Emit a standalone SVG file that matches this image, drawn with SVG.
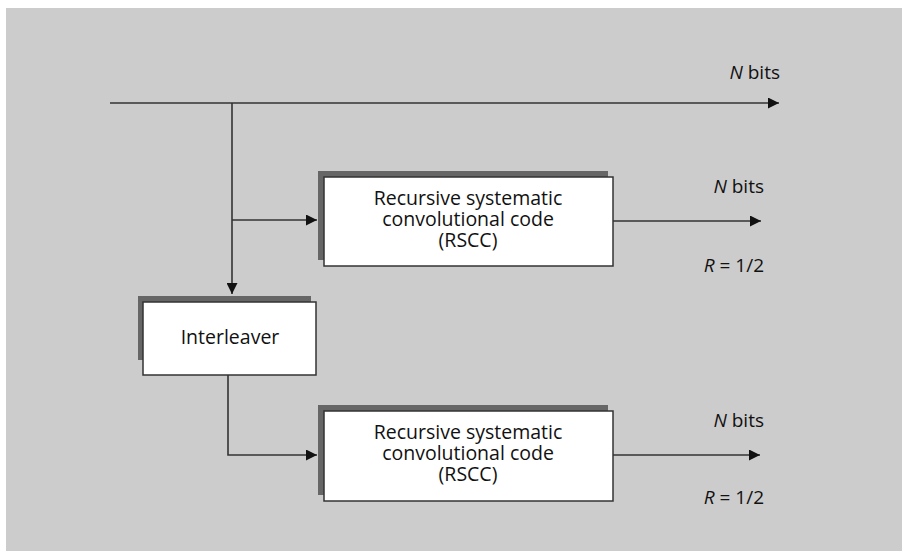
<svg xmlns="http://www.w3.org/2000/svg" width="902" height="551" viewBox="0 0 902 551">
  <style>
    .bg { fill: #cccccc; }
    .shadow { fill: #666666; }
    .box { fill: #ffffff; stroke: #333333; stroke-width: 1.5; }
    .wire { fill: none; stroke: #333333; stroke-width: 1.6; }
    .lbl { font-family: "Open Sans", "Noto Sans", "Liberation Sans", sans-serif; font-size: 19px; fill: #111111; }
    .blk { font-size: 19.5px; }
    .mid { text-anchor: middle; }
    .end { text-anchor: end; }
    .it { font-style: italic; }
  </style>
  <defs>
    <marker id="arrow" viewBox="0 0 10 10" refX="10" refY="5" markerWidth="11" markerHeight="11" markerUnits="userSpaceOnUse" orient="auto">
      <path d="M0,0 L10,5 L0,10 Z" fill="#111111"/>
    </marker>
  </defs>

  <rect class="bg" x="6" y="8" width="896" height="543"/>

  <g id="connectors">
    <!-- systematic bits straight through -->
    <line class="wire" x1="110" y1="103" x2="779" y2="103" marker-end="url(#arrow)"/>
    <!-- tap down to the interleaver -->
    <line class="wire" x1="232" y1="103" x2="232" y2="294" marker-end="url(#arrow)"/>
    <!-- tap into the first encoder -->
    <line class="wire" x1="232" y1="220" x2="317" y2="220" marker-end="url(#arrow)"/>
    <!-- first encoder output -->
    <line class="wire" x1="613" y1="221" x2="761" y2="221" marker-end="url(#arrow)"/>
    <!-- interleaver to second encoder -->
    <polyline class="wire" points="228,375 228,455 317,455" marker-end="url(#arrow)"/>
    <!-- second encoder output -->
    <line class="wire" x1="613" y1="455" x2="760" y2="455" marker-end="url(#arrow)"/>
  </g>

  <g id="rscc1">
    <rect class="shadow" x="318" y="171" width="290" height="89"/>
    <rect class="box" x="324" y="177" width="289" height="89"/>
    <text class="lbl blk mid" x="468" y="205">Recursive systematic</text>
    <text class="lbl blk mid" x="468" y="226">convolutional code</text>
    <text class="lbl blk mid" x="468" y="247">(RSCC)</text>
  </g>

  <g id="interleaver">
    <rect class="shadow" x="138" y="296" width="173" height="64"/>
    <rect class="box" x="143" y="302" width="173" height="73"/>
    <text class="lbl blk mid" x="230" y="344">Interleaver</text>
  </g>

  <g id="rscc2">
    <rect class="shadow" x="318" y="405" width="290" height="90"/>
    <rect class="box" x="324" y="411" width="289" height="90"/>
    <text class="lbl blk mid" x="468" y="439">Recursive systematic</text>
    <text class="lbl blk mid" x="468" y="460">convolutional code</text>
    <text class="lbl blk mid" x="468" y="481">(RSCC)</text>
  </g>

  <g id="labels">
    <text class="lbl end" x="780" y="79"><tspan class="it">N</tspan> bits</text>
    <text class="lbl end" x="764" y="193"><tspan class="it">N</tspan> bits</text>
    <text class="lbl end" x="764" y="272"><tspan class="it">R</tspan> = 1/2</text>
    <text class="lbl end" x="764" y="427"><tspan class="it">N</tspan> bits</text>
    <text class="lbl end" x="764" y="504"><tspan class="it">R</tspan> = 1/2</text>
  </g>
</svg>
